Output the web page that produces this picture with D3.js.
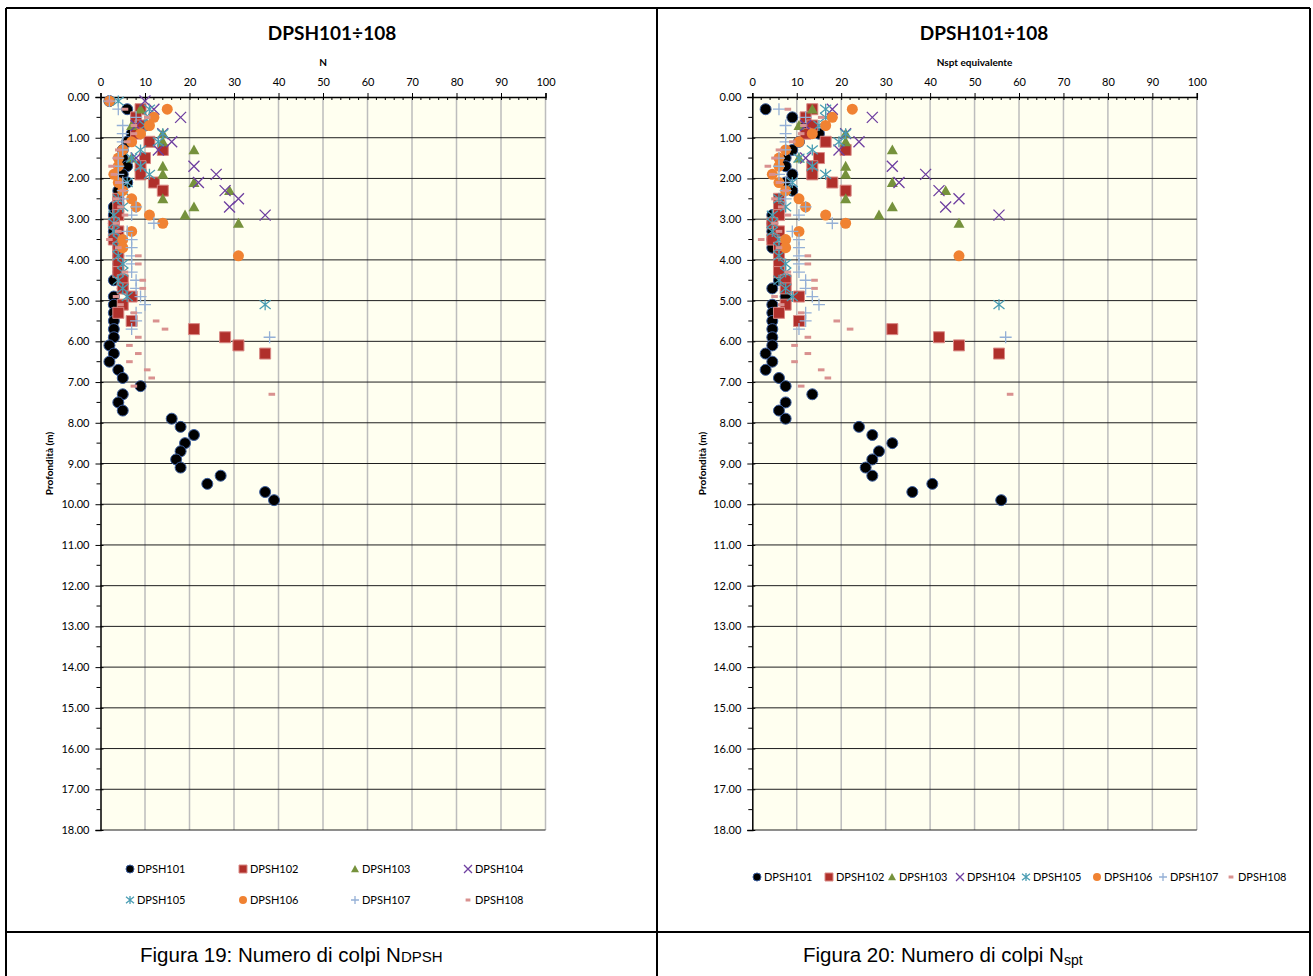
<!DOCTYPE html>
<html>
<head>
<meta charset="utf-8">
<script src="https://cdn.jsdelivr.net/npm/d3@7"></script>
<style>
    body { margin: 0; background: #fff; }
    svg { display: block; }
</style>
</head>
<body>
<svg id="chart" width="1313" height="976"></svg>
<script>
(function () {
    'use strict';

    // depth of every reading (m)
    var depths = [0.1, 0.3, 0.5, 0.7, 0.9, 1.1, 1.3, 1.5, 1.7, 1.9,
                  2.1, 2.3, 2.5, 2.7, 2.9, 3.1, 3.3, 3.5, 3.7, 3.9,
                  4.1, 4.3, 4.5, 4.7, 4.9, 5.1, 5.3, 5.5, 5.7, 5.9,
                  6.1, 6.3, 6.5, 6.7, 6.9, 7.1, 7.3, 7.5, 7.7, 7.9,
                  8.1, 8.3, 8.5, 8.7, 8.9, 9.1, 9.3, 9.5, 9.7, 9.9];

    var seriesNames = ["DPSH101", "DPSH102", "DPSH103", "DPSH104",
                       "DPSH105", "DPSH106", "DPSH107", "DPSH108"];

    var xTicks = [0, 10, 20, 30, 40, 50, 60, 70, 80, 90, 100];
    var yTicks = [0, 1, 2, 3, 4, 5, 6, 7, 8, 9, 10, 11, 12, 13, 14, 15, 16, 17, 18];

    // Figura 19 - N DPSH
    var nDpsh101 = [2, 6, 8, 10, 7, 6, 5, 5, 6, 5,
                    6, 4, 4, 3, 3, 3, 3, 3, 4, 4,
                    4, 4, 3, 5, 3, 3, 3, 3, 3, 3,
                    2, 3, 2, 4, 5, 9, 5, 4, 5, 16,
                    18, 21, 19, 18, 17, 18, 27, 24, 37, 39];
    var nDpsh102 = [null, 9, 8, 9, 8, 11, 14, 10, 9, 9,
                    12, 14, 4, 4, 4, 3, 4, 3, 4, 4,
                    4, 4, 5, 5, 7, 5, 4, 7, 21, 28,
                    31, 37];
    var nDpsh103 = [null, 9, null, 7, 14, 14, 21, 7, 14, 14,
                    21, 29, 14, 21, 19, 31];
    var nDpsh104 = [10, 12, 18, 8, 14, 16, 13, 8, 21, 26,
                    22, 28, 31, 29, 37];
    var nDpsh105 = [4, 11, 11, 10, 14, 13, 9, 7, 9, 11,
                    6, 5, 4, 5, 3, 3, 3, 4, 4, 4,
                    5, 5, 4, 5, 6, 37];
    var nDpsh106 = [2, 15, 12, 11, 9, 7, 5, 4, 4, 3,
                    4, 5, 7, 8, 11, 14, 7, 5, 5, 31];
    var nDpsh107 = [2, 4, 8, 5, 5, 5, 5, 4, 4, 4,
                    5, 5, 5, 8, 7, 12, 6, 7, 7, 7,
                    7, 7, 8, 8, 9, 10, 8, 8, 7, 38];
    var nDpsh108 = [2, 5.5, 10.5, 7.5, 7.5, 6, 4, 3.5, 2.5, 3,
                    4, 5, 3.5, 4.5, 5.5, 3.5, 4, 2, 4, 8.5,
                    8.5, 5.5, 9.5, 9.5, 3.5, 4.5, 7.5, 12.5, 14.5, 8.5,
                    6.5, 8.5, 6.5, 10.5, 11.5, 7.5, 38.5];

    // Figura 20 - Nspt equivalente
    var nSpt101 = [null, 3, 9, 12, 15, 10.5, 9, 7.5, 7.5, 9,
                   7.5, 9, 6, 6, 4.5, 4.5, 4.5, 4.5, 4.5, 6,
                   6, 6, 6, 4.5, 7.5, 4.5, 4.5, 4.5, 4.5, 4.5,
                   4.5, 3, 4.5, 3, 6, 7.5, 13.5, 7.5, 6, 7.5,
                   24, 27, 31.5, 28.5, 27, 25.5, 27, 40.5, 36, 56];
    var nSpt102 = [null, 13.5, 12, 13.5, 12, 16.5, 21, 15, 13.5, 13.5,
                   18, 21, 6, 6, 6, 4.5, 6, 4.5, 6, 6,
                   6, 6, 7.5, 7.5, 10.5, 7.5, 6, 10.5, 31.5, 42,
                   46.5, 55.5];
    var nSpt103 = [null, 13.5, null, 10.5, 21, 21, 31.5, 10.5, 21, 21,
                   31.5, 43.5, 21, 31.5, 28.5, 46.5];
    var nSpt104 = [null, 18, 27, 12, 21, 24, 19.5, 12, 31.5, 39,
                   33, 42, 46.5, 43.5, 55.5];
    var nSpt105 = [null, 16.5, 16.5, 15, 21, 19.5, 13.5, 10.5, 13.5, 16.5,
                   9, 7.5, 6, 7.5, 4.5, 4.5, 4.5, 6, 6, 6,
                   7.5, 7.5, 6, 7.5, 9, 55.5];
    var nSpt106 = [null, 22.5, 18, 16.5, 13.5, 10.5, 7.5, 6, 6, 4.5,
                   6, 7.5, 10.5, 12, 16.5, 21, 10.5, 7.5, 7.5, 46.5];
    var nSpt107 = [null, 6, 12, 7.5, 7.5, 7.5, 7.5, 6, 6, 6,
                   7.5, 7.5, 7.5, 12, 10.5, 18, 9, 10.5, 10.5, 10.5,
                   10.5, 10.5, 12, 12, 13.5, 15, 12, 12, 10.5, 57];
    var nSpt108 = [null, 8, 15.5, 11.5, 11, 9, 6, 5, 3.5, 4.5,
                   6, 7.5, 5, 6.5, 8, 5, 6, 2, 6, 12.5,
                   12.5, 8, 14, 14, 5, 6.5, 11, 19, 22, 12.5,
                   9.5, 12.5, 9.5, 15.5, 17, 11, 58];

    // marker look, one per series
    var markerStyle = [
        {shape: "circle",   fill: "#000000", stroke: "#3b5e9e", width: 1},
        {shape: "square",   fill: "#b0302b", stroke: "#d98a86", width: 1},
        {shape: "triangle", fill: "#76923c", stroke: "none",    width: 0},
        {shape: "x",        fill: "none",    stroke: "#6e3fa0", width: 1.3},
        {shape: "star",     fill: "none",    stroke: "#4a9db3", width: 1.3},
        {shape: "circle",   fill: "#f08232", stroke: "none",    width: 0},
        {shape: "plus",     fill: "none",    stroke: "#94b0d6", width: 1.3},
        {shape: "dash",     fill: "#d9918f", stroke: "none",    width: 0}
    ];

    var svg = d3.select("#chart");
    var plotTop = 97, plotBottom = 830;
    var chartFont = "Lato, 'Open Sans', sans-serif";

    function markerPath(shape, s) {
        var h = s / 2;
        switch (shape) {
            case "circle": return d3.symbol(d3.symbolCircle, Math.PI * h * h)();
            case "square": return "M" + (-h) + "," + (-h) + "H" + h + "V" + h + "H" + (-h) + "Z";
            case "triangle": return "M0," + (-h) + "L" + h + "," + (h * 0.8) + "L" + (-h) + "," + (h * 0.8) + "Z";
            case "x": return "M" + (-h) + "," + (-h) + "L" + h + "," + h + "M" + (-h) + "," + h + "L" + h + "," + (-h);
            case "star": return "M" + (-h) + "," + (-h * 0.8) + "L" + h + "," + (h * 0.8) + "M" + (-h) + "," + (h * 0.8) + "L" + h + "," + (-h * 0.8) + "M0," + (-h) + "V" + h;
            case "plus": return "M" + (-h) + ",0H" + h + "M0," + (-h) + "V" + h;
            case "dash": return "M" + (-h * 0.6) + "," + (-1.5) + "H" + (h * 0.6) + "V1.5H" + (-h * 0.6) + "Z";
        }
    }

    function drawPanel(cfg) {
        var g = svg.append("g");

        var x = d3.scaleLinear().domain([0, 100]).range([cfg.x0, cfg.x1]);
        var y = d3.scaleLinear().domain([0, 18]).range([plotTop, plotBottom]);

        g.append("rect")
            .attr("x", x(0)).attr("y", y(0))
            .attr("width", x(100) - x(0)).attr("height", y(18) - y(0))
            .attr("fill", "#fffff0");

        g.append("g").selectAll("line")
            .data(xTicks.slice(1))
            .join("line")
            .attr("x1", function (d) { return x(d); })
            .attr("x2", function (d) { return x(d); })
            .attr("y1", y(0)).attr("y2", y(18))
            .attr("stroke", "#bdbdbd").attr("stroke-width", 1.5);

        g.append("g").selectAll("line")
            .data(yTicks.slice(1))
            .join("line")
            .attr("x1", x(0)).attr("x2", x(100))
            .attr("y1", function (d) { return y(d); })
            .attr("y2", function (d) { return y(d); })
            .attr("stroke", "#1e1e1e").attr("stroke-width", 1);

        // top axis
        var xa = g.append("g")
            .attr("transform", "translate(0," + y(0) + ")")
            .call(d3.axisTop(x).tickValues(xTicks).tickSize(4).tickPadding(7).tickFormat(d3.format("d")));
        xa.selectAll(".tick line").attr("y2", -4).attr("y1", 3).attr("stroke", "#000");
        xa.selectAll("text").attr("font-family", chartFont).attr("font-size", 11).attr("fill", "#000");
        xa.select(".domain").attr("stroke", "#000").attr("stroke-width", 1.5);
        xa.append("g").selectAll("line")
            .data(d3.range(0, 101, 2).filter(function (d) { return d % 10 !== 0; }))
            .join("line")
            .attr("x1", function (d) { return x(d); })
            .attr("x2", function (d) { return x(d); })
            .attr("y1", 0).attr("y2", 3)
            .attr("stroke", "#000");

        // left axis
        var ya = g.append("g")
            .attr("transform", "translate(" + x(0) + ",0)")
            .call(d3.axisLeft(y).tickValues(yTicks).tickSize(5).tickPadding(6).tickFormat(d3.format(".2f")));
        ya.selectAll(".tick line").attr("x1", 3).attr("stroke", "#000");
        ya.selectAll("text").attr("font-family", chartFont).attr("font-size", 11).attr("fill", "#000");
        ya.select(".domain").attr("stroke", "#000").attr("stroke-width", 1.5);
        ya.append("g").selectAll("line")
            .data(d3.range(0.5, 18, 1))
            .join("line")
            .attr("x1", -4).attr("x2", 0)
            .attr("y1", function (d) { return y(d); })
            .attr("y2", function (d) { return y(d); })
            .attr("stroke", "#000");

        g.append("text")
            .attr("x", cfg.titleX).attr("y", 40)
            .attr("text-anchor", "middle")
            .attr("font-family", chartFont).attr("font-weight", "bold").attr("font-size", 19)
            .text("DPSH101÷108");

        g.append("text")
            .attr("x", (x(0) + x(100)) / 2).attr("y", 66)
            .attr("text-anchor", "middle")
            .attr("font-family", chartFont).attr("font-weight", "bold").attr("font-size", 10)
            .text(cfg.axisTitle);

        g.append("text")
            .attr("transform", "translate(" + cfg.yTitleX + "," + ((y(0) + y(18)) / 2) + ") rotate(-90)")
            .attr("text-anchor", "middle")
            .attr("font-family", chartFont).attr("font-weight", "bold").attr("font-size", 10)
            .text("Profondità (m)");

        cfg.series.forEach(function (vals, k) {
            var st = markerStyle[k];
            var pts = vals.map(function (v, i) { return {d: depths[i], v: v}; })
                .filter(function (p) { return p.v != null; });
            g.append("g").selectAll("path")
                .data(pts)
                .join("path")
                .attr("transform", function (p) { return "translate(" + x(p.v) + "," + y(p.d) + ")"; })
                .attr("d", markerPath(st.shape, st.shape === "plus" ? 12 : 11))
                .attr("fill", st.fill)
                .attr("stroke", st.stroke)
                .attr("stroke-width", st.width);
        });

        // legend
        var lg = g.append("g")
            .selectAll("g")
            .data(seriesNames)
            .join("g")
            .attr("transform", function (d, i) { return "translate(" + cfg.legendPos(i)[0] + "," + cfg.legendPos(i)[1] + ")"; });
        lg.append("path")
            .attr("d", function (d, i) { return markerPath(markerStyle[i].shape, 8); })
            .attr("fill", function (d, i) { return markerStyle[i].fill; })
            .attr("stroke", function (d, i) { return markerStyle[i].stroke; })
            .attr("stroke-width", function (d, i) { return markerStyle[i].width; });
        lg.append("text")
            .attr("x", 7).attr("dy", "0.35em")
            .attr("font-family", chartFont).attr("font-size", 11)
            .text(function (d) { return d; });
    }

    // frame of the two-cell table
    var frame = svg.append("g").attr("stroke", "#000").attr("stroke-width", 2);
    frame.append("line").attr("x1", 6).attr("x2", 1310).attr("y1", 8).attr("y2", 8);
    frame.append("line").attr("x1", 6).attr("x2", 1310).attr("y1", 932).attr("y2", 932);
    [6, 657, 1310].forEach(function (fx) {
        frame.append("line").attr("x1", fx).attr("x2", fx).attr("y1", 8).attr("y2", 976);
    });

    drawPanel({
        x0: 100.5, x1: 545.5, titleX: 332, yTitleX: 53, axisTitle: "N",
        series: [nDpsh101, nDpsh102, nDpsh103, nDpsh104, nDpsh105, nDpsh106, nDpsh107, nDpsh108],
        legendPos: function (i) { return [[130, 243, 355, 468][i % 4], i < 4 ? 869 : 900]; }
    });

    drawPanel({
        x0: 752.3, x1: 1196.8, titleX: 984, yTitleX: 706, axisTitle: "Nspt equivalente",
        series: [nSpt101, nSpt102, nSpt103, nSpt104, nSpt105, nSpt106, nSpt107, nSpt108],
        legendPos: function (i) { return [[757, 829, 892, 960, 1026, 1097, 1163, 1231][i], 877]; }
    });

    // captions
    var capFont = "'Liberation Sans', Arial, sans-serif";
    var cap1 = svg.append("text").attr("x", 140).attr("y", 962)
        .attr("font-family", capFont).attr("font-size", 20.5);
    cap1.append("tspan").text("Figura 19: Numero di colpi N");
    cap1.append("tspan").attr("font-size", 15).text("DPSH");

    var cap2 = svg.append("text").attr("x", 803).attr("y", 962)
        .attr("font-family", capFont).attr("font-size", 20.5);
    cap2.append("tspan").text("Figura 20: Numero di colpi N");
    cap2.append("tspan").attr("font-size", 14).attr("dy", 3).text("spt");
})();
</script>
</body>
</html>
